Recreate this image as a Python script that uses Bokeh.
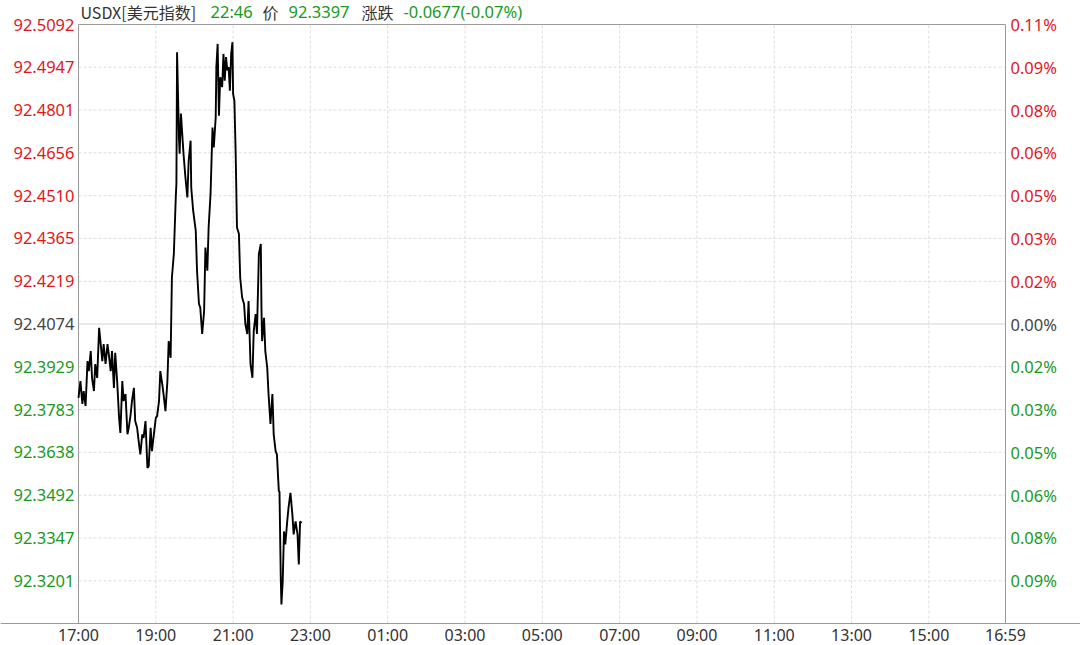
from bokeh.plotting import figure
from bokeh.models import Range1d
from bokeh.core.properties import value
from bokeh.embed import file_html
from bokeh.resources import INLINE

# ---------------- data ----------------
times = [
    "17:00", "17:03", "17:06", "17:08", "17:11", "17:14", "17:16", "17:19", "17:21", "17:24",
    "17:26", "17:29", "17:32", "17:34", "17:37", "17:39", "17:42", "17:45", "17:47", "17:50",
    "17:52", "17:55", "17:57", "18:00", "18:03", "18:05", "18:08", "18:10", "18:13", "18:16",
    "18:18", "18:21", "18:23", "18:26", "18:28", "18:31", "18:34", "18:36", "18:39", "18:41",
    "18:44", "18:47", "18:49", "18:52", "18:54", "18:57", "19:00", "19:02", "19:05", "19:07",
    "19:10", "19:12", "19:15", "19:18", "19:20", "19:23", "19:25", "19:28", "19:31", "19:32",
    "19:33", "19:36", "19:37", "19:39", "19:41", "19:43", "19:46", "19:49", "19:51", "19:54",
    "19:55", "19:58", "20:00", "20:02", "20:04", "20:07", "20:09", "20:12", "20:15", "20:17",
    "20:20", "20:22", "20:25", "20:28", "20:30", "20:33", "20:34", "20:36", "20:38", "20:40",
    "20:43", "20:45", "20:47", "20:49", "20:51", "20:53", "20:55", "20:57", "20:59", "21:00",
    "21:02", "21:04", "21:06", "21:09", "21:11", "21:14", "21:17", "21:19", "21:22", "21:24",
    "21:27", "21:30", "21:32", "21:35", "21:37", "21:40", "21:43", "21:44", "21:45", "21:48",
    "21:50", "21:53", "21:55", "21:58", "22:01", "22:03", "22:06", "22:08", "22:11", "22:12",
    "22:14", "22:15", "22:17", "22:19", "22:21", "22:24", "22:26", "22:29", "22:32", "22:34",
    "22:37", "22:40", "22:42", "22:44", "22:46",
]
prices = [
    92.3823, 92.3880, 92.3802, 92.3846, 92.3795, 92.3948, 92.3914, 92.3982, 92.3891, 92.3846,
    92.3938, 92.3891, 92.4061, 92.4016, 92.3948, 92.4006, 92.3938, 92.4006, 92.3972, 92.3914,
    92.3982, 92.3857, 92.3976, 92.3880, 92.3755, 92.3704, 92.3880, 92.3812, 92.3836, 92.3699,
    92.3721, 92.3768, 92.3812, 92.3857, 92.3744, 92.3721, 92.3665, 92.3631, 92.3699, 92.3687,
    92.3744, 92.3585, 92.3590, 92.3721, 92.3642, 92.3699, 92.3755, 92.3761, 92.3812, 92.3914,
    92.3870, 92.3836, 92.3778, 92.3880, 92.4016, 92.3959, 92.4232, 92.4312, 92.4504, 92.4551,
    92.4998, 92.4704, 92.4653, 92.4789, 92.4721, 92.4653, 92.4572, 92.4504, 92.4629, 92.4697,
    92.4538, 92.4459, 92.4425, 92.4391, 92.4255, 92.4142, 92.4130, 92.4040, 92.4118, 92.4334,
    92.4255, 92.4402, 92.4517, 92.4742, 92.4674, 92.4777, 92.4947, 92.5026, 92.4782, 92.4913,
    92.4879, 92.4992, 92.4901, 92.4981, 92.4936, 92.4947, 92.4867, 92.4992, 92.5032, 92.4856,
    92.4833, 92.4653, 92.4402, 92.4381, 92.4232, 92.4164, 92.4142, 92.4074, 92.4040, 92.4152,
    92.3938, 92.3891, 92.4050, 92.4108, 92.4040, 92.4312, 92.4346, 92.4130, 92.4016, 92.4095,
    92.3982, 92.3925, 92.3836, 92.3734, 92.3836, 92.3699, 92.3642, 92.3631, 92.3505, 92.3505,
    92.3210, 92.3121, 92.3199, 92.3369, 92.3325, 92.3403, 92.3449, 92.3500, 92.3427, 92.3359,
    92.3403, 92.3359, 92.3257, 92.3403, 92.3397,
]
base_price = 92.4074
y_min, y_max = 92.3056, 92.5092
left_ticks = [92.5092, 92.4947, 92.4801, 92.4656, 92.4510, 92.4365, 92.4219,
              92.4074, 92.3929, 92.3783, 92.3638, 92.3492, 92.3347, 92.3201]
right_labels = ["0.11%", "0.09%", "0.08%", "0.06%", "0.05%", "0.03%", "0.02%",
                "0.00%", "0.02%", "0.03%", "0.05%", "0.06%", "0.08%", "0.09%"]
x_tick_labels = ["17:00", "19:00", "21:00", "23:00", "01:00", "03:00", "05:00",
                 "07:00", "09:00", "11:00", "13:00", "15:00", "16:59"]
title_name = "USDX[美元指数]"
price_word = "价"
change_word = "涨跌"

# ---------------- helpers ----------------
def to_min(t):
    h, m = t.split(":")
    return (int(h) * 60 + int(m) - 17 * 60) % 1440

mins = [to_min(t) for t in times]
x_ticks = [to_min(t) for t in x_tick_labels]
x_lo, x_hi = 0, x_ticks[-1]

# pixel layout of the page
W, H = 1080, 645
PL, PR, PT, PB = 78, 1005, 24, 623          # plotting box edges
kx = (x_hi - x_lo) / (PR - PL)               # minutes per pixel
ky = (y_max - y_min) / (PB - PT)             # price units per pixel
x_start, x_end = x_lo - PL * kx, x_hi + (W - PR) * kx
y_start, y_end = y_min - (H - PB) * ky, y_max + PT * ky

RED = "#e3161c"
GREEN = "#1a9a1a"
GRAY = "#444444"
DARK = "#333333"
FONT = "Noto Sans"
CJK = "Noto Sans CJK SC"
LBL = "16.5px"

p = figure(width=W, height=H, output_backend="svg", toolbar_location=None,
           x_range=Range1d(x_start, x_end), y_range=Range1d(y_start, y_end),
           x_axis_location=None, y_axis_location=None,
           min_border_left=0, min_border_right=0, min_border_top=0, min_border_bottom=0)
p.outline_line_color = None
p.background_fill_color = "white"
p.border_fill_color = "white"
p.xgrid.visible = False
p.ygrid.visible = False

# grid lines (inside plotting box only)
inner = [t for t in left_ticks if abs(t - base_price) > 1e-6 and t < y_max - 1e-6]
p.segment(x0=[x_lo] * len(inner), x1=[x_hi] * len(inner), y0=inner, y1=inner,
          line_color="#dedede", line_dash="3 2", line_width=1)
vx = x_ticks[1:-1]
p.segment(x0=vx, x1=vx, y0=[y_min] * len(vx), y1=[y_max] * len(vx),
          line_color="#dedede", line_dash="3 2", line_width=1)
p.segment(x0=[x_lo], x1=[x_hi], y0=[base_price], y1=[base_price],
          line_color="#a5a5a5", line_dash="1 1", line_width=1)

# plotting box border and the full-width base line under it
p.quad(left=[x_lo], right=[x_hi], bottom=[y_min], top=[y_max],
       fill_color=None, line_color="#9a9a9a", line_width=1)
p.segment(x0=[x_start], x1=[x_end], y0=[y_min], y1=[y_min],
          line_color="#9a9a9a", line_width=1)

# price line
p.line(mins, prices, line_color="black", line_width=1.9)

# coloured tick labels
colors = [GRAY if abs(v - base_price) < 1e-6 else (RED if v > base_price else GREEN)
          for v in left_ticks]
p.text(x=[x_lo - 4 * kx] * len(left_ticks), y=left_ticks,
       text=[f"{v:.4f}" for v in left_ticks], text_color=colors,
       text_align="right", text_baseline="middle",
       text_font=value(FONT), text_font_size=LBL)
p.text(x=[x_hi + 5 * kx] * len(left_ticks), y=left_ticks, text=right_labels,
       text_color=colors, text_align="left", text_baseline="middle",
       text_font=value(FONT), text_font_size=LBL)

# time labels
p.text(x=x_ticks, y=[y_min - 11.5 * ky] * len(x_ticks), text=x_tick_labels,
       text_color=DARK, text_align="center", text_baseline="middle",
       text_font=value(FONT), text_font_size="16px")

# header line
last_t = times[-1]
last_p = prices[-1]
chg = last_p - base_price
pct = chg / base_price * 100
hy = y_max + (PT - 11) * ky
cjk_txt = [title_name, price_word, change_word]
cjk_px = [80, 262, 361]
lat_txt = [last_t, f"{last_p:.4f}", f"{chg:.4f}({pct:.2f}%)"]
lat_px = [210, 288, 403]
p.text(x=[(px - PL) * kx for px in cjk_px], y=[hy] * 3, text=cjk_txt,
       text_color=[DARK, DARK, DARK], text_align="left", text_baseline="middle",
       text_font=value(CJK), text_font_size="16px")
p.text(x=[(px - PL) * kx for px in lat_px], y=[hy] * 3, text=lat_txt,
       text_color=[GREEN, GREEN, GREEN], text_align="left", text_baseline="middle",
       text_font=value(FONT), text_font_size="16.5px")

open("out.html", "w").write(file_html(p, INLINE))
